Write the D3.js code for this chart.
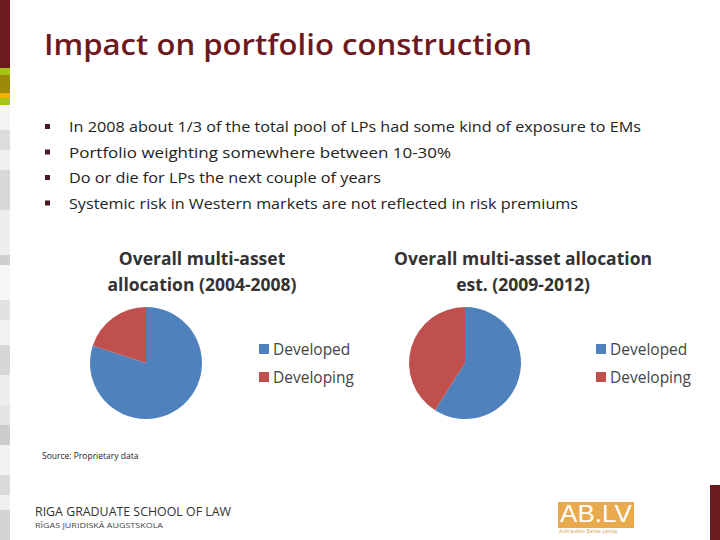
<!DOCTYPE html>
<html><head><meta charset="utf-8">
<script src="https://cdn.jsdelivr.net/npm/d3@7"></script>
<style>body{margin:0;background:#fff}svg{display:block}</style>
</head><body>
<script>
const categories = ["Developed", "Developing"];
const pie1Values = [80, 20];
const pie2Values = [59, 41];
const pieTitles = [["Overall multi-asset", "allocation (2004-2008)"], ["Overall multi-asset allocation", "est. (2009-2012)"]];
const bullets = [
  "In 2008 about 1/3 of the total pool of LPs had some kind of exposure to EMs",
  "Portfolio weighting somewhere between 10-30%",
  "Do or die for LPs the next couple of years",
  "Systemic risk in Western markets are not reflected in risk premiums"
];
const colors = ["#4f81bd", "#c0504d"];

const svg = d3.select("body").append("svg").attr("width", 720).attr("height", 540);

// left decorative strip
const strip = [[0,68,"#6d1a1f"],[68,75,"#a6c31c"],[75,93,"#9c8a0a"],[93,98,"#f0b400"],[98,105,"#a6c31c"],
  [105,130,"#f4f4f4"],[130,150,"#dcdcdc"],[150,170,"#f0f0f0"],[170,210,"#d8d8d8"],[210,255,"#eeeeee"],
  [255,265,"#cfcfcf"],[265,300,"#f6f6f6"],[300,320,"#e2e2e2"],[320,345,"#f2f2f2"],[345,375,"#d6d6d6"],
  [375,405,"#eeeeee"],[405,425,"#e4e4e4"],[425,445,"#cccccc"],[445,475,"#f2f2f2"],[475,495,"#dadada"],
  [495,510,"#f0f0f0"],[510,540,"#d4d4d4"]];
svg.selectAll("rect.strip").data(strip).enter().append("rect")
  .attr("x",0).attr("y",d=>d[0]).attr("width",10).attr("height",d=>d[1]-d[0]).attr("fill",d=>d[2]);
svg.append("rect").attr("x",710).attr("y",485).attr("width",10).attr("height",55).attr("fill","#6d1a1f");

svg.append("text").attr("x",44).attr("y",55).attr("font-family","Open Sans").attr("font-weight",600).attr("font-size",29)
  .attr("fill","#6d1a1f").attr("textLength",488).attr("lengthAdjust","spacingAndGlyphs").text("Impact on portfolio construction");

const bg = svg.append("g").attr("font-family","Open Sans").attr("font-size",15).attr("fill","#222");
const bulletWidths = [572, 382, 312, 509];
bullets.forEach((b,i)=>{
  const y = 132 + i*25.5;
  bg.append("rect").attr("x",45).attr("y",y-8).attr("width",5).attr("height",5).attr("fill","#4a1a1f");
  bg.append("text").attr("x",69).attr("y",y).attr("textLength",bulletWidths[i]).attr("lengthAdjust","spacingAndGlyphs").text(b);
});

const arc = d3.arc().innerRadius(0).outerRadius(56);
const pie = d3.pie().sort(null);
[[pie1Values,146,202,259],[pie2Values,465,523,596]].forEach(([vals,cx,tx,lx],k)=>{
  const g = svg.append("g").attr("transform",`translate(${cx},363)`);
  g.selectAll("path").data(pie(vals)).enter().append("path").attr("d",arc).attr("fill",(d,i)=>colors[i]);
  pieTitles[k].forEach((t,j)=>svg.append("text").attr("x",tx).attr("y",265+j*26).attr("text-anchor","middle")
    .attr("font-family","Open Sans").attr("font-weight","bold").attr("font-size",17.5).attr("fill","#333").text(t));
  categories.forEach((c,i)=>{
    svg.append("rect").attr("x",lx).attr("y",344+i*28).attr("width",10).attr("height",10).attr("fill",colors[i]);
    svg.append("text").attr("x",lx+14).attr("y",355+i*28).attr("font-family","Open Sans").attr("font-size",15.5)
      .attr("fill","#444").text(c);
  });
});

svg.append("text").attr("x",42).attr("y",459).attr("font-family","Open Sans").attr("font-size",8.5).attr("fill","#222").text("Source: Proprietary data");

svg.append("text").attr("x",35).attr("y",516).attr("font-family","Open Sans").attr("font-size",12).attr("fill","#333")
  .attr("textLength",196).attr("lengthAdjust","spacingAndGlyphs").text("RIGA GRADUATE SCHOOL OF LAW");
svg.append("text").attr("x",35).attr("y",528).attr("font-family","Open Sans").attr("font-size",7).attr("fill","#444")
  .attr("textLength",128).attr("lengthAdjust","spacingAndGlyphs").text("RĪGAS JURIDISKĀ AUGSTSKOLA");

svg.append("rect").attr("x",558).attr("y",502).attr("width",76).attr("height",26).attr("fill","#e9a94d");
svg.append("text").attr("x",560).attr("y",522).attr("font-family","Liberation Sans").attr("font-size",23)
  .attr("fill","#fff").attr("textLength",72).attr("lengthAdjust","spacingAndGlyphs").text("AB.LV");
svg.append("text").attr("x",559).attr("y",533).attr("font-family","Open Sans").attr("font-size",4.5)
  .attr("fill","#d9953d").attr("textLength",58).text("Aizkraukles Banka Latvija");
</script>
</body></html>
